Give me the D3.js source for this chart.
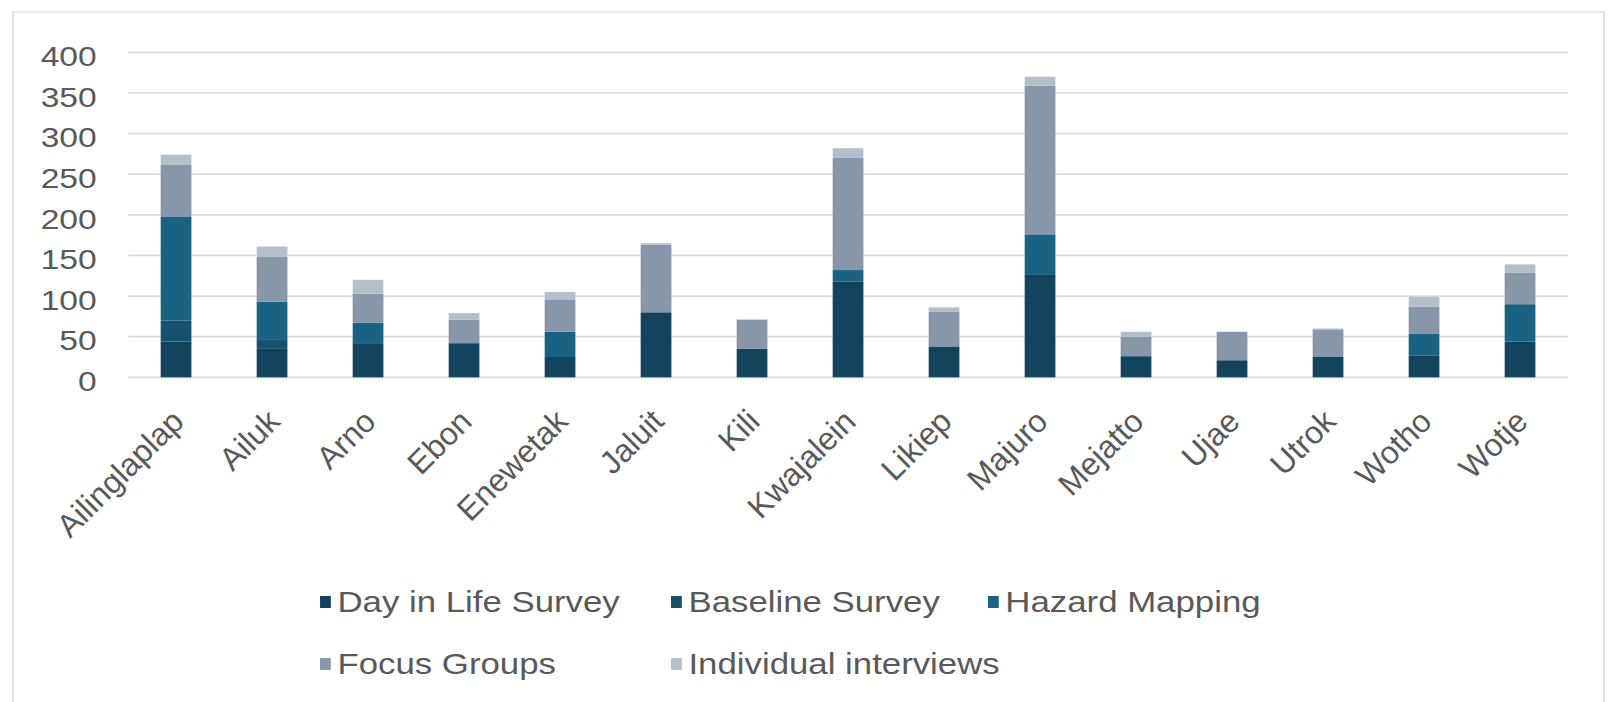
<!DOCTYPE html>
<html>
<head>
<meta charset="utf-8">
<script src="https://cdn.jsdelivr.net/npm/d3@7"></script>
<style>
  body { margin: 0; background: #fff; }
  text { font-family: "Liberation Sans", Arial, sans-serif; fill: #595959; }
</style>
</head>
<body>
<div id="chart"></div>
<script>
// atolls and counts per survey method
const atolls = ["Ailinglaplap", "Ailuk", "Arno", "Ebon", "Enewetak", "Jaluit", "Kili", "Kwajalein",
    "Likiep", "Majuro", "Mejatto", "Ujae", "Utrok", "Wotho", "Wotje"];
const seriesNames = ["Day in Life Survey", "Baseline Survey", "Hazard Mapping", "Focus Groups", "Individual interviews"];
const dayInLife   = [44, 35, 42, 42, 25, 80, 35, 118, 38, 126, 26, 21, 25, 27, 44];
const baseline    = [26, 12, 0, 0, 0, 0, 0, 0, 0, 0, 0, 0, 0, 0, 0];
const hazard      = [128, 46, 25, 0, 31, 0, 0, 14, 0, 50, 0, 0, 0, 27, 46];
const focusGroups = [64, 55, 36, 29, 40, 83, 36, 138, 43, 183, 24, 35, 34, 33, 39];
const interviews  = [12, 13, 17, 8, 9, 2, 0, 12, 5, 11, 6, 0, 1, 12, 10];
const yTicks = [0, 50, 100, 150, 200, 250, 300, 350, 400];

const colors = ["#11435d", "#15526d", "#1a6282", "#8797a9", "#b4bfca"];

// the source picture is stretched sideways, so draw in a narrower space and scale it
const stretch = 1.2;
const width = 1614, height = 702;
const innerW = width / stretch;
const marginLeft = 106.7, marginRight = innerW - 1306.7;
const marginTop = 52.3, plotBottom = 377.3;

const table = atolls.map((a, i) => ({
    atoll: a,
    "Day in Life Survey": dayInLife[i],
    "Baseline Survey": baseline[i],
    "Hazard Mapping": hazard[i],
    "Focus Groups": focusGroups[i],
    "Individual interviews": interviews[i]
}));

const stack = d3.stack().keys(seriesNames)(table);

const x = d3.scaleBand()
    .domain(atolls)
    .range([marginLeft, innerW - marginRight])
    .paddingInner(0.68)
    .paddingOuter(0.34);

const y = d3.scaleLinear()
    .domain([0, 400])
    .range([plotBottom, marginTop]);

const color = d3.scaleOrdinal().domain(seriesNames).range(colors);

const svg = d3.select("#chart").append("svg")
    .attr("width", width)
    .attr("height", height)
    .attr("viewBox", [0, 0, width, height]);

const g = svg.append("g").attr("transform", `scale(${stretch},1)`);

// chart frame
g.append("rect")
    .attr("x", 10.8)
    .attr("y", 12)
    .attr("width", 1336.7 - 10.8)
    .attr("height", 700)
    .attr("fill", "none")
    .attr("stroke", "#d9d9d9")
    .attr("stroke-width", 1.2);

// gridlines
g.append("g")
    .selectAll("line")
    .data(yTicks)
    .join("line")
    .attr("x1", marginLeft)
    .attr("x2", innerW - marginRight)
    .attr("y1", d => y(d))
    .attr("y2", d => y(d))
    .attr("stroke", "#d9d9d9")
    .attr("stroke-width", 1.8);

// y labels
g.append("g")
    .selectAll("text")
    .data(yTicks)
    .join("text")
    .attr("x", 80.6)
    .attr("y", d => y(d) + 4)
    .attr("dy", "0.35em")
    .attr("text-anchor", "end")
    .attr("font-size", 28)
    .text(d => d);

// bars
g.append("g")
    .selectAll("g")
    .data(stack)
    .join("g")
    .attr("fill", d => color(d.key))
    .selectAll("rect")
    .data(d => d)
    .join("rect")
    .attr("x", d => x(d.data.atoll))
    .attr("y", d => y(d[1]))
    .attr("height", d => y(d[0]) - y(d[1]))
    .attr("width", x.bandwidth());

// x labels, rotated 45 degrees (undo the sideways stretch for these)
g.append("g")
    .selectAll("text")
    .data(atolls)
    .join("text")
    .attr("transform", d => `translate(${x(d) + x.bandwidth() / 2 + 8},${plotBottom + 46}) scale(${1 / stretch},1) rotate(-45)`)
    .attr("text-anchor", "end")
    .attr("font-size", 32)
    .text(d => d);

// legend
const legendCols = [266.7, 559.2, 823.3];
const legendRows = [602, 664];
const legend = g.append("g")
    .selectAll("g")
    .data(seriesNames)
    .join("g")
    .attr("transform", (d, i) => `translate(${legendCols[i % 3]},${legendRows[Math.floor(i / 3)]})`);

legend.append("rect")
    .attr("x", 0)
    .attr("y", -6)
    .attr("width", 9)
    .attr("height", 12)
    .attr("fill", color);

legend.append("text")
    .attr("x", 14.5)
    .attr("y", 0)
    .attr("dy", "0.35em")
    .attr("font-size", 29)
    .text(d => d);
</script>
</body>
</html>
